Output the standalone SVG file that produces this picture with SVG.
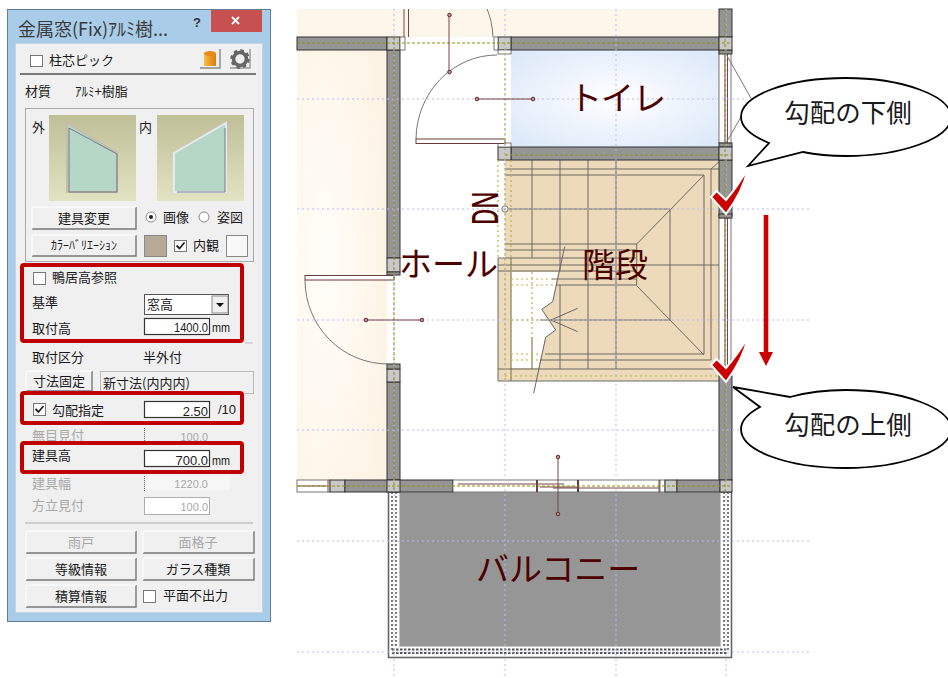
<svg xmlns="http://www.w3.org/2000/svg" width="948" height="678" viewBox="0 0 948 678">
<style>
text{font-family:"Noto Sans CJK JP","Liberation Sans",sans-serif}
.t{font-size:13px;fill:#1a1a1a}
.g{font-size:13px;fill:#a8a8a8}
.c{text-anchor:middle}
.r{text-anchor:end}
.m{font-family:"Liberation Sans",sans-serif;font-size:13px;fill:#1a1a1a}
.btn{fill:#f0f0f0;stroke:none}
.be{fill:none;stroke:#777;stroke-width:1.4}
.bh{fill:none;stroke:#fff;stroke-width:1}
.cb{fill:#fff;stroke:#777;stroke-width:1}
.inp{fill:#fff;stroke:#333;stroke-width:1.2}
.inpd{fill:#fff;stroke:#666;stroke-width:1;stroke-dasharray:1 1}
.red{fill:none;stroke:#c00000;stroke-width:4}
.wall{fill:#959595;stroke:#333;stroke-width:1}
.col{fill:#c8c8c8;stroke:#333;stroke-width:1}
.win{fill:#fff;stroke:#555;stroke-width:.8}
.grid{stroke:#b9b9fb;stroke-width:1;stroke-dasharray:2 3;fill:none}
.ol{stroke:#8f8f10;stroke-width:1;stroke-dasharray:3 2;fill:none}
.yl{stroke:#b5b53c;stroke-width:1.2;stroke-dasharray:2 3;fill:none}
.st{stroke:#6a6a62;stroke-width:1;fill:none}
.br{stroke:#7a4545;stroke-width:1;fill:none}
.dr{stroke:#777;stroke-width:1;fill:none}
.dot{fill:#c49090;stroke:#5a2a2a;stroke-width:1}
.lab{font-size:33px;fill:#4c0000}
.bub{fill:#fff;stroke:#000;stroke-width:1.8}
.bt{font-size:25.500px;fill:#1a1a1a;text-anchor:middle}
.chk{fill:#cc0000;stroke:#fff;stroke-width:2}
</style>
<defs>
<radialGradient id="toilet" cx="50%" cy="50%" r="65%"><stop offset="0" stop-color="#ffffff"/><stop offset="1" stop-color="#dde9f9"/></radialGradient>
<radialGradient id="room" cx="30%" cy="50%" r="75%"><stop offset="0" stop-color="#fffdf9"/><stop offset="1" stop-color="#fdf3e4"/></radialGradient>
<linearGradient id="thumb" x1="0" y1="0" x2="0" y2="1"><stop offset="0" stop-color="#bfbf98"/><stop offset="1" stop-color="#e2e3c2"/></linearGradient>
<linearGradient id="cyl" x1="0" y1="0" x2="1" y2="0"><stop offset="0" stop-color="#f5c040"/><stop offset="1" stop-color="#e07810"/></linearGradient>
</defs>

<g id="panel">
<rect x="7.500" y="9.500" width="263" height="612" fill="#a9cde9" stroke="#5f7f96"/>
<rect x="211" y="10" width="51" height="22" fill="#c75050"/>
<path d="M232 17l7 7M239 17l-7 7" stroke="#fff" stroke-width="1.800"/>
<text x="197" y="27" style="font-family:'Liberation Sans',sans-serif;font-size:13px;font-weight:bold" class="c" fill="#333">?</text>
<text x="18" y="36" style="font-size:18px" fill="#3a3a3a">金属窓(Fix)ｱﾙﾐ樹...</text>
<rect x="15.500" y="43.500" width="247" height="569" fill="#f0f0f0" stroke="#c4d6e4"/>
</g>

<g id="panel-top">
<rect class="cb" x="30.500" y="55.500" width="12" height="11"/>
<text class="t" x="49" y="65">柱芯ピック</text>
<path d="M200 68H220V49" fill="none" stroke="#888" stroke-width="1.400"/>
<path d="M204 53.500V66H216V53.500Z" fill="url(#cyl)"/>
<ellipse cx="210" cy="53.500" rx="6" ry="2.500" fill="#e88a18"/>
<path d="M230 68H250V49" fill="none" stroke="#999" stroke-width="1.400"/>
<circle cx="240" cy="59" r="6.500" fill="none" stroke="#666" stroke-width="3.600"/>
<circle cx="240" cy="59" r="8.500" fill="none" stroke="#666" stroke-width="2.500" stroke-dasharray="3.500 3.170"/>
<path d="M20 74H256" stroke="#555" stroke-width="1.500"/>
<text class="t" x="25" y="96">材質</text>
<text class="t" x="75" y="96">ｱﾙﾐ+樹脂</text>
<rect x="25.500" y="108.500" width="228" height="153" fill="none" stroke="#aaa"/>
<text class="t" x="32" y="132">外</text>
<text class="t" x="139" y="132">内</text>
<rect x="49" y="115" width="87" height="86" fill="url(#thumb)"/>
<rect x="157" y="115" width="87" height="86" fill="url(#thumb)"/>
<path d="M67 123L117 153V192H67Z" fill="#b6d6c6" stroke="#c4bcb0" stroke-width="2"/>
<path d="M69 128L117 154V192H69Z" fill="none" stroke="#667" stroke-width=".8"/>
<path d="M174 153L226 123V192H174Z" fill="#b6d6c6" stroke="#e6eaf4" stroke-width="2"/>
<path d="M225 128V192H177" fill="none" stroke="#667" stroke-width=".8"/>
</g>

<g id="panel-buttons-a">
<rect class="btn" x="32" y="207" width="104" height="22"/><path class="be" d="M32 229H136V207"/><path class="bh" d="M32 229V207H136"/>
<text class="t c" x="84" y="223">建具変更</text>
<rect class="btn" x="32" y="235" width="104" height="21"/><path class="be" d="M32 256H136V235"/><path class="bh" d="M32 256V235H136"/>
<text class="t c" x="84" y="250" style="font-size:12px">ｶﾗｰﾊﾞﾘｴｰｼｮﾝ</text>
<circle cx="151" cy="217" r="5" fill="#fff" stroke="#888"/><circle cx="151" cy="217" r="2" fill="#222"/>
<text class="t" x="163" y="222">画像</text>
<circle cx="204" cy="217" r="5" fill="#fff" stroke="#888"/>
<text class="t" x="217" y="222">姿図</text>
<rect x="144.500" y="235.500" width="22" height="21" fill="#b5aa98" stroke="#888"/>
<rect class="cb" x="174.500" y="240.500" width="12" height="11"/><path d="M176.500 245.500l3 3 5-6" fill="none" stroke="#222" stroke-width="1.800"/>
<text class="t" x="193" y="250">内観</text>
<rect x="226.500" y="235.500" width="21" height="21" fill="#f8f8f8" stroke="#888"/>
</g>

<g id="panel-height">
<rect class="red" x="22" y="265" width="220" height="76" rx="2"/>
<rect class="cb" x="33.500" y="272.500" width="12" height="12"/>
<text class="t" x="52" y="282">鴨居高参照</text>
<text class="t" x="32" y="307">基準</text>
<rect x="144.500" y="294.500" width="84" height="20" fill="#fff" stroke="#555"/>
<text class="t" x="147" y="309">窓高</text>
<rect x="212" y="296" width="16" height="17" fill="#f0f0f0" stroke="#888"/><path d="M216 303h8l-4 4z" fill="#111"/>
<text class="t" x="32" y="333">取付高</text>
<rect class="inp" x="144.500" y="318.500" width="65" height="16"/>
<text class="m r" x="208" y="332" textLength="34" lengthAdjust="spacingAndGlyphs">1400.0</text><text class="m" x="212" y="332" textLength="18" lengthAdjust="spacingAndGlyphs">mm</text>
<path d="M245 343h8" stroke="#bbb"/>
</g>

<g id="panel-mid">
<text class="t" x="32" y="362">取付区分</text>
<text class="t" x="143" y="362">半外付</text>
<rect class="btn" x="26" y="371" width="66" height="20"/><path class="be" d="M26 391H92V371"/><path class="bh" d="M26 391V371H92"/>
<text class="t c" x="59" y="386">寸法固定</text>
<rect x="100.500" y="371.500" width="153" height="22" fill="#f0f0f0" stroke="#bbb"/>
<text class="t" x="103" y="388">新寸法(内内内)</text>
<rect class="red" x="22" y="393" width="220" height="30" rx="2"/>
<rect class="cb" x="33.500" y="403.500" width="12" height="12"/><path d="M35.500 409l3 3 5-6" fill="none" stroke="#222" stroke-width="1.800"/>
<text class="t" x="52" y="415">勾配指定</text>
<rect class="inp" x="144.500" y="401.500" width="65" height="16"/>
<text class="m r" x="208" y="416">2.50</text><text class="m" x="218" y="414">/10</text>
<text class="g" x="32" y="440">無目見付</text>
<path d="M144.500 428V444" stroke="#666" stroke-dasharray="1 1"/>
<text class="g r" x="208" y="441" style="font-family:'Liberation Sans',sans-serif;font-size:11px">100.0</text>
<rect class="red" x="22" y="443" width="220" height="29" rx="2"/>
<text class="t" x="32" y="460">建具高</text>
<rect class="inp" x="144.500" y="450.500" width="65" height="16"/>
<text class="m r" x="208" y="465">700.0</text><text class="m" x="212" y="465" textLength="18" lengthAdjust="spacingAndGlyphs">mm</text>
<text class="g" x="32" y="488">建具幅</text>
<rect x="146" y="476" width="84" height="14" fill="#f6f6f6"/>
<path d="M144.500 476V492" stroke="#666" stroke-dasharray="1 1"/>
<text class="g r" x="208" y="488" style="font-family:'Liberation Sans',sans-serif;font-size:11px">1220.0</text>
<text class="g" x="32" y="510">方立見付</text>
<rect class="inpd" x="144.500" y="497.500" width="65" height="17"/>
<text class="g r" x="208" y="511" style="font-family:'Liberation Sans',sans-serif;font-size:11px">100.0</text>
<path d="M25 523H253" stroke="#aaa"/>
</g>

<g id="panel-buttons-b">
<rect class="btn" x="26" y="531" width="110" height="22"/><path class="be" d="M26 553H136V531"/><path class="bh" d="M26 553V531H136"/>
<text class="g c" x="81" y="547">雨戸</text>
<rect class="btn" x="143" y="531" width="111" height="22"/><path class="be" d="M143 553H254V531"/><path class="bh" d="M143 553V531H254"/>
<text class="g c" x="198" y="547">面格子</text>
<rect class="btn" x="26" y="558" width="110" height="22"/><path class="be" d="M26 580H136V558"/><path class="bh" d="M26 580V558H136"/>
<text class="t c" x="81" y="574">等級情報</text>
<rect class="btn" x="143" y="558" width="111" height="22"/><path class="be" d="M143 580H254V558"/><path class="bh" d="M143 580V558H254"/>
<text class="t c" x="198" y="574">ガラス種類</text>
<rect class="btn" x="26" y="585" width="110" height="22"/><path class="be" d="M26 607H136V585"/><path class="bh" d="M26 607V585H136"/>
<text class="t c" x="81" y="601">積算情報</text>
<rect class="cb" x="143.500" y="590.500" width="12" height="12"/>
<text class="t" x="163" y="600">平面不出力</text>
</g>

<g id="plan-rooms">
<rect x="297" y="9" width="423" height="28" fill="#fdf6ea"/>
<rect x="297" y="50" width="90" height="430" fill="url(#room)"/>
<rect x="511" y="50" width="208" height="97" fill="url(#toilet)"/>
<path d="M505 160H719V381H498V258H505Z" fill="#eddabb"/>
<path d="M511 272H558L552.700 301.700 541.700 309.300 555.700 330 545.700 337.300 538 368H511Z" fill="#fff"/>
</g>

<g id="plan-stairs">
<path class="st" d="M505 169H719M505 175H704M505 209H670M505 244H636.700M505 250H636.700M498 258H636.700M498 265H719M498 271H636.700M552 279H636.700M556 285H636.700M540 320H670M545 354H704M540 360H711M498 369H719M498 381H719"/>
<path class="st" d="M532 160V258M560 160V271M588 160V369M616 160V369M532 337V369M560 285V369M670 210V320M704 175V354M711 169V360M636.700 244V285M498 258V381M511 258V381"/>
<path class="st" d="M720 161L711 169M704 175L670 210L636.700 244M636.700 285.700L670 320L704 355"/>
<path d="M564.700 246.700L552.700 301.700 541.700 309.300 555.700 330 545.700 337.300 533.700 393.300M577.700 308.300L551 320 577.700 331.700" fill="none" stroke="#666"/>
<circle cx="505" cy="209" r="3.200" fill="#eee" stroke="#777"/>
</g>

<g id="plan-balcony">
<rect x="388.500" y="492" width="343" height="165.500" fill="#fff" stroke="#666" stroke-width="1.600"/>
<path d="M392 492V650M728 492V650" fill="none" stroke="#555" stroke-width="1.500" stroke-dasharray="2 2"/>
<path d="M396 492V647M724 492V647" fill="none" stroke="#555" stroke-width="1.500" stroke-dasharray="2 2"/>
<path d="M392 649.500H728M392 653H728" fill="none" stroke="#555" stroke-width="1.800" stroke-dasharray="2.500 1.500"/>
<rect x="399.500" y="492" width="321" height="154.500" fill="#969696" stroke="#c4c4c4"/>
</g>

<g id="plan-walls">
<rect class="wall" x="297" y="37" width="90" height="13"/>
<rect class="wall" x="387" y="50" width="13" height="208"/>
<rect class="wall" x="387" y="382" width="13" height="98"/>
<rect class="wall" x="511" y="37" width="208" height="13"/>
<rect class="wall" x="511" y="147" width="208" height="13"/>
<rect class="wall" x="719" y="9" width="13" height="28"/>
<rect class="wall" x="719" y="160" width="13" height="56"/>
<rect class="wall" x="719" y="376" width="13" height="104"/>
<rect class="win" x="719" y="50" width="12" height="93"/>
<rect class="win" x="719" y="218" width="12" height="158"/>
<path class="br" d="M725 54V143M727.500 54V143M725 218V376M727.500 218V376"/>
<rect class="wall" x="719" y="143" width="13" height="4" fill="#7d5a5a"/>
<rect class="wall" x="719" y="50" width="13" height="4" fill="#7d5a5a"/>
<rect class="wall" x="719" y="214" width="13" height="4" fill="#7d5a5a"/>
<rect class="col" x="387" y="37" width="13" height="13"/>
<rect class="win" x="400" y="37" width="5" height="13"/>
<rect class="col" x="498" y="37" width="13" height="13"/>
<rect class="win" x="494" y="37" width="4" height="13"/>
<rect class="win" x="498" y="50" width="13" height="4"/>
<rect class="col" x="498" y="147" width="13" height="13"/>
<rect class="win" x="498" y="143" width="13" height="4"/>
<rect class="col" x="719" y="37" width="13" height="13"/>
<rect class="col" x="719" y="147" width="13" height="13"/>
<rect class="col" x="387" y="258" width="13" height="14"/>
<rect class="wall" x="387" y="272" width="13" height="3"/>
<rect class="col" x="387" y="369" width="13" height="13"/>
<rect class="wall" x="387" y="364" width="13" height="5"/>
</g>

<g id="plan-south-wall">
<rect class="win" x="297" y="480" width="33" height="12"/>
<rect class="col" x="330" y="480" width="15" height="12"/>
<rect class="wall" x="345" y="480" width="108" height="12"/>
<rect class="col" x="387" y="480" width="13" height="12"/>
<rect class="win" x="453" y="480" width="207" height="12"/>
<path d="M537 480V492M578 480V492" stroke="#5a3a3a" stroke-width="2"/>
<rect class="win" x="660" y="480" width="5" height="12"/>
<rect class="col" x="665" y="480" width="12" height="12"/>
<rect class="wall" x="677" y="480" width="43" height="12"/>
<rect class="col" x="720" y="480" width="12" height="12"/>
</g>

<g id="plan-doors">
<path class="br" d="M404 9V37M408.500 9V37"/>
<path class="dr" d="M487 9Q492 20 493 37"/>
<path class="dr" d="M416 139A81 85 0 0 1 497 55"/>
<rect x="416" y="139" width="89" height="4.500" fill="#fff" stroke="#6b3c3c"/>
<rect x="305" y="275.500" width="89" height="4.500" fill="#fff" stroke="#6b3c3c"/>
<path class="dr" d="M305 280A83 84 0 0 0 388 364"/>
<path class="dr" d="M726 54L752 100M726 143L745 110"/>
<path class="br" d="M298 486H327M328 480V492M458 484H537M537 480V492M537 484H564M540 487H578M553 488H659M659 480V492"/>
</g>

<g id="plan-grid">
<path class="grid" d="M297 99H745M297 209H810M297 320H810M297 430H810M297 541H810M297 652H810M394 9V678M505 9V678M616 9V678M726 9V678"/>
<path class="ol" d="M297 43H732M394 37V492M505 155H732M297 486H732M725 9V492"/>
<path class="yl" d="M505 43V380M511 160V380M498 160V258M505 376H719M511 279H555M511 285H556M511 320H550M511 354H545M511 360H540M532 272V368"/>
</g>

<g id="plan-leaders">
<path class="br" d="M449 15V72M477 99H533M366 320H422M558 457V514"/>
<circle class="dot" cx="449.500" cy="15" r="1.800"/><circle class="dot" cx="449.500" cy="72" r="1.800"/>
<circle class="dot" cx="477" cy="99" r="1.800"/><circle class="dot" cx="533" cy="99" r="1.800"/>
<circle class="dot" cx="366" cy="320" r="1.800"/><circle class="dot" cx="422" cy="320" r="1.800"/>
<circle class="dot" cx="558" cy="457" r="1.800"/><circle class="dot" cx="558" cy="514" r="1.800"/>
</g>

<g id="labels">
<text class="lab" x="569" y="110" style="letter-spacing:-1px">トイレ</text>
<text class="lab" x="399" y="276">ホール</text>
<text class="lab" x="582" y="277">階段</text>
<text class="lab" x="476" y="581">バルコニー</text>
<text transform="translate(498 225) rotate(-90) scale(.62 1)" style="font-family:'Noto Sans',sans-serif;font-size:36px;font-weight:500" fill="#4c0000">DN</text>
</g>

<g id="slope-arrow">
<path d="M763.700 215H768.300V352H773L766 366 759 352H763.700Z" fill="#cc0000"/>
</g>
<g id="check-lower-side">
<path class="chk" d="M716.500 191L726 200Q738 186 748 168Q743 192 726 214L711 197Z"/>
</g>
<g id="check-upper-side">
<path class="chk" d="M716.500 359L726 368Q738 354 748 337Q743 360 726 382L711 365Z"/>
</g>
<g id="callout-lower">
<path class="bub" d="M748 166L769 143C752 136 741 128 741 117C741 95 788 78 846 78C900 78 951 95 951 117C951 139 900 156 846 156C830 156 815 154.500 803 152Z"/>
<text class="bt" x="848" y="122">勾配の下側</text>
</g>
<g id="callout-upper">
<path class="bub" d="M733 387L790 397C808 392 826 390 846 390C900 390 951 407 951 429C951 451 900 468 846 468C788 468 741 451 741 429C741 421 749 413 760 407Z"/>
<text class="bt" x="848" y="434">勾配の上側</text>
</g>
</svg>
